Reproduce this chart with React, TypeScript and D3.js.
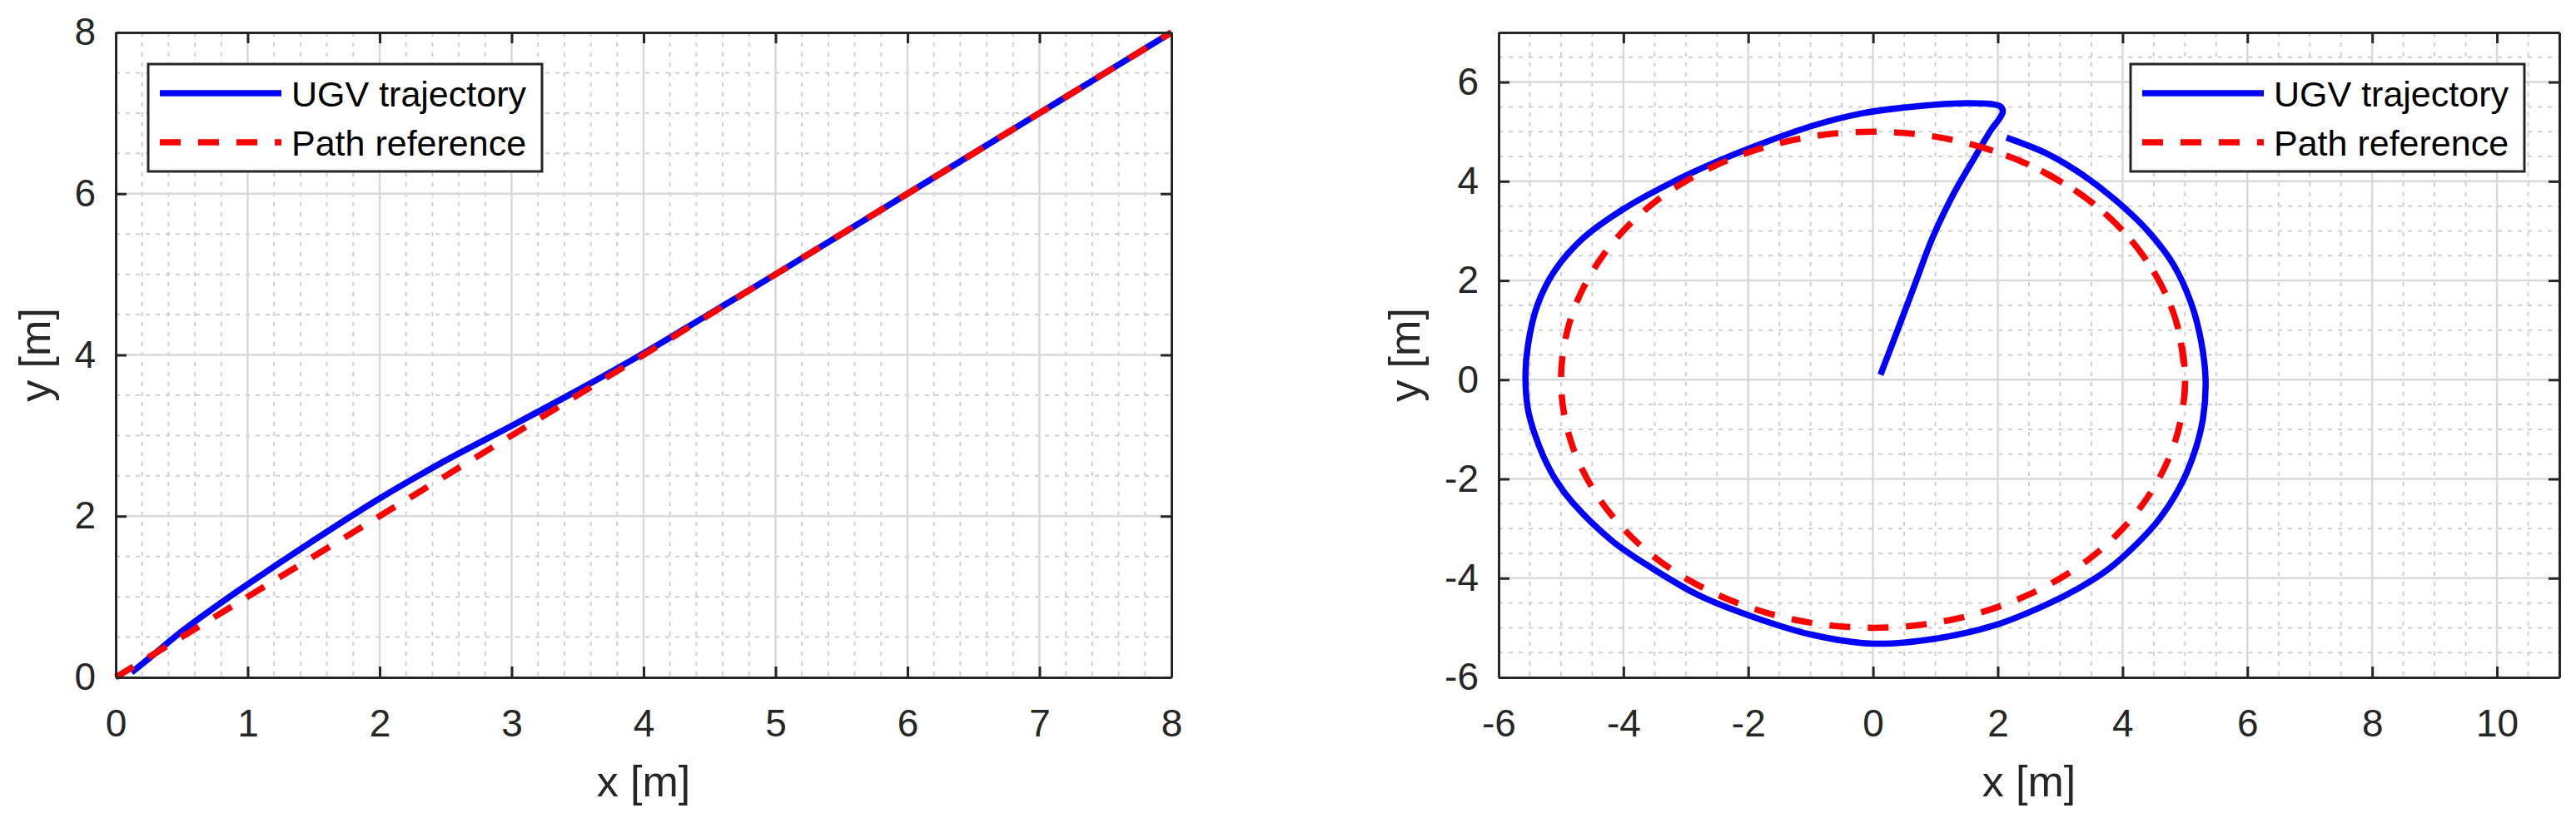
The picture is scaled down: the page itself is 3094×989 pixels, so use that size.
import React, { useEffect, useRef } from "react";
import * as d3 from "d3";

// ---- left panel: straight-line path ----
const lineRefX = [0, 1, 2, 3, 4, 5, 6, 7, 8];
const lineRefY = [0, 1, 2, 3, 4, 5, 6, 7, 8];
const lineUgvX = [0.12, 0.3, 0.5, 0.75, 1, 1.5, 2, 2.5, 3, 3.5, 4, 4.5, 5, 6, 7, 8];
const lineUgvY = [0.06, 0.3, 0.57, 0.87, 1.155, 1.7, 2.22, 2.69, 3.12, 3.56, 4.02, 4.51, 5.0, 6, 7, 8];

// ---- right panel: circular path (reference drawn a bit more than one turn) ----
const circRefX = [4.98, 5, 4.83, 4.33, 3.54, 2.5, 1.29, 0, -1.29, -2.5, -3.54, -4.33, -4.83, -5, -4.83, -4.33, -3.54, -2.5, -1.29, 0, 1.29, 2.5, 3.54, 4.33, 4.83, 5, 4.83, 4.33, 3.54, 2.5, 1.71];
const circRefY = [-0.44, 0, 1.29, 2.5, 3.54, 4.33, 4.83, 5, 4.83, 4.33, 3.54, 2.5, 1.29, 0, -1.29, -2.5, -3.54, -4.33, -4.83, -5, -4.83, -4.33, -3.54, -2.5, -1.29, 0, 1.29, 2.5, 3.54, 4.33, 4.7];
const circUgvX = [0.12, 0.37, 0.65, 0.95, 1.28, 1.6, 1.9, 2.03, 2.08, 2.05, 1.93, 1.7, 1.37, 0.6, -0.17, -0.94, -1.7, -2.48, -3.25, -4.0, -4.64, -5.1, -5.38, -5.53, -5.57, -5.53, -5.42, -5.27, -5.07, -4.82, -4.18, -3.54, -2.77, -1.88, -0.98, 0, 1.0, 1.95, 2.75, 3.3, 3.74, 4.21, 4.58, 4.91, 5.15, 5.29, 5.33, 5.26, 5.1, 4.82, 4.44, 3.97, 3.36, 2.8, 2.14];
const circUgvY = [0.1, 0.92, 1.85, 2.85, 3.72, 4.42, 5.05, 5.27, 5.4, 5.5, 5.55, 5.57, 5.57, 5.5, 5.37, 5.13, 4.8, 4.41, 3.96, 3.44, 2.86, 2.2, 1.5, 0.7, 0.1, -0.6, -1.1, -1.58, -2.05, -2.47, -3.25, -3.8, -4.36, -4.8, -5.14, -5.32, -5.22, -4.95, -4.55, -4.2, -3.85, -3.33, -2.82, -2.18, -1.47, -0.77, 0, 0.77, 1.54, 2.31, 2.95, 3.53, 4.13, 4.55, 4.88];

// ---- ticks and labels ----
const leftXTicks = [0, 1, 2, 3, 4, 5, 6, 7, 8];
const leftYTicks = [0, 2, 4, 6, 8];
const rightXTicks = [-6, -4, -2, 0, 2, 4, 6, 8, 10];
const rightYTicks = [-6, -4, -2, 0, 2, 4, 6];
const seriesNames = ["UGV trajectory", "Path reference"];
const xLabel = "x [m]";
const yLabel = "y [m]";

const W = 3094;
const H = 989;
const FONT = "'Liberation Sans', Arial, Helvetica, sans-serif";
const INK = "#262626";
const BLUE = "#0000ff";
const RED = "#ff0000";
const LW = 7.5;
const DASH = "25 21";

const zip = (a, b) => a.map((v, i) => [v, b[i]]);

function drawPanel(svg, p) {
  const x = d3.scaleLinear().domain(p.xDomain).range([p.left, p.right]);
  const y = d3.scaleLinear().domain(p.yDomain).range([p.bottom, p.top]);
  const g = svg.append("g");

  // minor grid (dotted)
  const inside = (v, dom) => v > dom[0] + 1e-6 && v < dom[1] - 1e-6;
  const notMajor = (v, ticks) => !ticks.some((t) => Math.abs(t - v) < 1e-6);
  const minorX = d3
    .range(p.xDomain[0], p.xDomain[1] + 1e-9, p.xMinor)
    .filter((v) => inside(v, p.xDomain) && notMajor(v, p.xTicks));
  const minorY = d3
    .range(p.yDomain[0], p.yDomain[1] + 1e-9, p.yMinor)
    .filter((v) => inside(v, p.yDomain) && notMajor(v, p.yTicks));

  const minor = g.append("g").attr("stroke", "#cfcfcf").attr("stroke-width", 2).attr("stroke-dasharray", "5 7");
  minor.selectAll(".mx").data(minorX).join("line")
    .attr("x1", (d) => x(d)).attr("x2", (d) => x(d))
    .attr("y1", p.top).attr("y2", p.bottom);
  minor.selectAll(".my").data(minorY).join("line")
    .attr("y1", (d) => y(d)).attr("y2", (d) => y(d))
    .attr("x1", p.left).attr("x2", p.right);

  // major grid (solid)
  const major = g.append("g").attr("stroke", "#d9d9d9").attr("stroke-width", 2.5);
  major.selectAll(".gx").data(p.xTicks.filter((v) => inside(v, p.xDomain))).join("line")
    .attr("x1", (d) => x(d)).attr("x2", (d) => x(d))
    .attr("y1", p.top).attr("y2", p.bottom);
  major.selectAll(".gy").data(p.yTicks.filter((v) => inside(v, p.yDomain))).join("line")
    .attr("y1", (d) => y(d)).attr("y2", (d) => y(d))
    .attr("x1", p.left).attr("x2", p.right);

  // data lines
  const line = d3.line().x((d) => x(d[0])).y((d) => y(d[1])).curve(d3.curveCatmullRom);
  g.append("path")
    .attr("d", line(zip(p.ugvX, p.ugvY)))
    .attr("fill", "none").attr("stroke", BLUE).attr("stroke-width", LW)
    .attr("stroke-linejoin", "round");
  g.append("path")
    .attr("d", line(zip(p.refX, p.refY)))
    .attr("fill", "none").attr("stroke", RED).attr("stroke-width", LW)
    .attr("stroke-dasharray", DASH);

  // axes, inward ticks on all four sides
  const fmt = (d) => String(d);
  const styleAxis = (sel) => {
    sel.attr("font-family", FONT).attr("font-size", 46);
    sel.selectAll("text").attr("fill", INK);
    sel.selectAll("line").attr("stroke", INK).attr("stroke-width", 3);
    sel.select(".domain").attr("stroke", INK).attr("stroke-width", 3);
  };
  g.append("g").attr("transform", `translate(0,${p.bottom})`)
    .call(d3.axisBottom(x).tickValues(p.xTicks).tickFormat(fmt).tickSize(-13).tickSizeOuter(0).tickPadding(38))
    .call(styleAxis);
  g.append("g").attr("transform", `translate(0,${p.top})`)
    .call(d3.axisTop(x).tickValues(p.xTicks).tickFormat(() => "").tickSize(-13).tickSizeOuter(0))
    .call(styleAxis);
  g.append("g").attr("transform", `translate(${p.left},0)`)
    .call(d3.axisLeft(y).tickValues(p.yTicks).tickFormat(fmt).tickSize(-13).tickSizeOuter(0).tickPadding(24))
    .call(styleAxis);
  g.append("g").attr("transform", `translate(${p.right},0)`)
    .call(d3.axisRight(y).tickValues(p.yTicks).tickFormat(() => "").tickSize(-13).tickSizeOuter(0))
    .call(styleAxis);

  // axis labels
  g.append("text")
    .attr("x", (p.left + p.right) / 2).attr("y", 957)
    .attr("text-anchor", "middle").attr("font-family", FONT).attr("font-size", 52).attr("fill", INK)
    .text(xLabel);
  g.append("text")
    .attr("transform", `translate(${p.yLabelX},${(p.top + p.bottom) / 2}) rotate(-90)`)
    .attr("text-anchor", "middle").attr("font-family", FONT).attr("font-size", 52).attr("fill", INK)
    .text(yLabel);

  // legend
  const lg = g.append("g").attr("transform", `translate(${p.legendX},${p.top + 38})`);
  lg.append("rect").attr("width", 473).attr("height", 129)
    .attr("fill", "#fff").attr("stroke", INK).attr("stroke-width", 3);
  const rows = [
    { name: seriesNames[0], color: BLUE, dash: null, y: 35 },
    { name: seriesNames[1], color: RED, dash: DASH, y: 94 },
  ];
  rows.forEach((r) => {
    lg.append("line").attr("x1", 14).attr("x2", 160).attr("y1", r.y).attr("y2", r.y)
      .attr("stroke", r.color).attr("stroke-width", LW)
      .attr("stroke-dasharray", r.dash);
    lg.append("text").attr("x", 172).attr("y", r.y + 16)
      .attr("font-family", FONT).attr("font-size", 43).attr("fill", "#000")
      .text(r.name);
  });
}

const App = () => {
  const ref = useRef(null);

  useEffect(() => {
    const svg = d3.select(ref.current);
    svg.selectAll("*").remove();
    svg.append("rect").attr("width", W).attr("height", H).attr("fill", "#fff");

    drawPanel(svg, {
      left: 139, right: 1407, top: 39, bottom: 814,
      xDomain: [0, 8], yDomain: [0, 8],
      xTicks: leftXTicks, yTicks: leftYTicks, xMinor: 0.2, yMinor: 0.5,
      refX: lineRefX, refY: lineRefY, ugvX: lineUgvX, ugvY: lineUgvY,
      yLabelX: 60, legendX: 178,
    });
    drawPanel(svg, {
      left: 1800, right: 3074, top: 39, bottom: 814,
      xDomain: [-6, 11], yDomain: [-6, 7],
      xTicks: rightXTicks, yTicks: rightYTicks, xMinor: 0.5, yMinor: 0.5,
      refX: circRefX, refY: circRefY, ugvX: circUgvX, ugvY: circUgvY,
      yLabelX: 1705, legendX: 2559,
    });
  }, []);

  return (
    <svg
      ref={ref}
      width={W}
      height={H}
      viewBox={`0 0 ${W} ${H}`}
      style={{ position: "absolute", left: 0, top: 0, display: "block" }}
    />
  );
};

export default App;
